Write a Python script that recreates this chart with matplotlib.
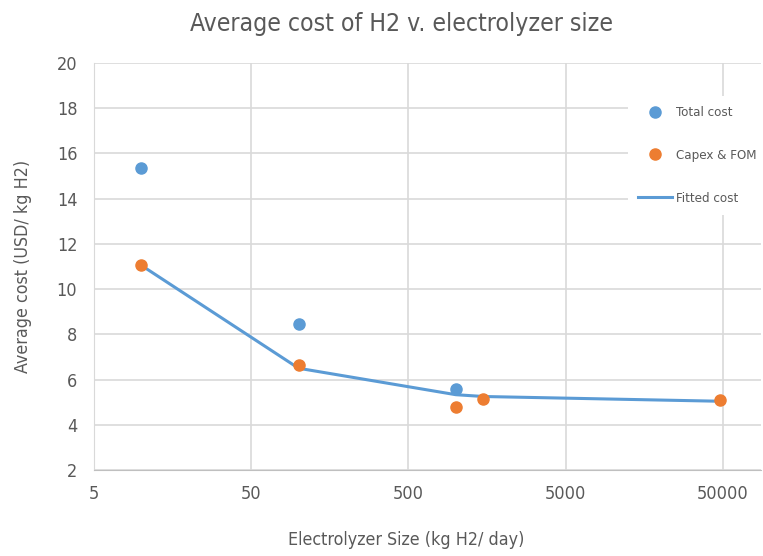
import matplotlib
matplotlib.use("Agg")
import matplotlib.pyplot as plt
from matplotlib.lines import Line2D

# data
total_size = [10, 100, 1000]
total_cost = [15.35, 8.45, 5.58]

capex_size = [10, 100, 1000, 1500, 48000]
capex_cost = [11.05, 6.65, 4.8, 5.14, 5.1]

fit_size = [10, 100, 1000, 1500, 48000]
fit_cost = [11.05, 6.5, 5.33, 5.25, 5.04]

x_ticks = [5, 50, 500, 5000, 50000]
y_ticks = [2, 4, 6, 8, 10, 12, 14, 16, 18, 20]

BLUE, ORANGE = "#5b9bd5", "#ed7d31"
TEXT, GRID = "#595959", "#d9d9d9"

plt.rcParams["font.family"] = ["DejaVu Sans"]
plt.rcParams["font.stretch"] = "condensed"

fig = plt.figure(figsize=(7.63, 5.56), dpi=100)
ax = fig.add_axes([0.1232, 0.1547, 0.8738, 0.732])

ax.plot(fit_size, fit_cost, color=BLUE, lw=2.2, zorder=2, label="Fitted cost")
ax.plot(total_size, total_cost, "o", color=BLUE, ms=8, zorder=3, label="Total cost")
ax.plot(capex_size, capex_cost, "o", color=ORANGE, ms=8, zorder=3, label="Capex & FOM")

ax.set_xscale("log")
ax.set_xlim(5, 87000)
ax.set_ylim(2, 20)
ax.set_xticks(x_ticks)
ax.set_xticklabels([str(t) for t in x_ticks])
ax.xaxis.set_minor_locator(matplotlib.ticker.NullLocator())
ax.set_yticks(y_ticks)
ax.tick_params(length=0, labelsize=13, colors=TEXT, pad=12)
ax.tick_params(axis="x", pad=11)

ax.grid(True, color=GRID, lw=1.2)
ax.set_axisbelow(True)
for s in ("top", "right"):
    ax.spines[s].set_visible(False)
ax.spines["left"].set_color(GRID)
ax.spines["bottom"].set_color("#bfbfbf")

# x label sits a little left of the plot centre, as in the reference
fig.text(406 / 763, 1 - 540 / 556, "Electrolyzer Size (kg H2/ day)", fontsize=12.8,
         color=TEXT, ha="center", va="center")
ax.set_ylabel("Average cost (USD/ kg H2)", fontsize=12.8, color=TEXT, labelpad=18)
fig.suptitle("Average cost of H2 v. electrolyzer size", fontsize=17.7, color=TEXT,
             x=401 / 763, y=0.978)

handles = [
    Line2D([], [], marker="o", ls="none", color=BLUE, ms=8),
    Line2D([], [], marker="o", ls="none", color=ORANGE, ms=8),
    Line2D([], [], color=BLUE, lw=2.2),
]
leg = ax.legend(handles, ["Total cost", "Capex & FOM", "Fitted cost"],
                loc="upper left", bbox_to_anchor=(621 / 763, 1 - 89 / 556),
                bbox_transform=fig.transFigure, fontsize=9.5, labelspacing=2.25,
                handlelength=2.6, handletextpad=0.3, borderpad=0.8,
                frameon=True, fancybox=False, edgecolor="none", facecolor="white",
                framealpha=1)
for t in leg.get_texts():
    t.set_color(TEXT)

fig.savefig("out.png", dpi=100)
